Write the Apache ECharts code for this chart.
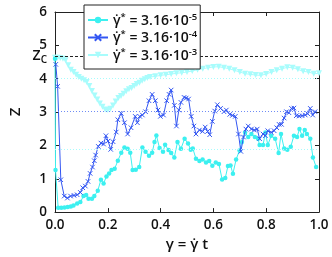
<!DOCTYPE html>
<html><head><meta charset="utf-8">
<script src="https://cdn.jsdelivr.net/npm/echarts@6/dist/echarts.min.js"></script>
<style>html,body{margin:0;padding:0;background:#fff}#c{width:332px;height:257px}</style>
</head><body><div id="c"></div>
<script>
// ---- data ----
const xTicks = [0.0, 0.2, 0.4, 0.6, 0.8, 1.0];
const yTicks = [0, 1, 2, 3, 4, 5, 6];
const seriesNames = ['γ̇* = 3.16·10⁻⁵', 'γ̇* = 3.16·10⁻⁴', 'γ̇* = 3.16·10⁻³'];
const seriesMantissa = ['3.16', '3.16', '3.16'];
const seriesExp = ['-5', '-4', '-3'];
const Z_C = 4.67;
const meanLevels = [1.89, 3.01, 4.0];

const s1x = [0,0.002,0.012,0.024,0.036,0.048,0.06,0.07,0.084,0.096,0.108,0.118,0.127,0.14,0.149,0.162,0.174,0.184,0.195,0.205,0.214,0.226,0.238,0.251,0.263,0.275,0.285,0.294,0.306,0.319,0.331,0.343,0.356,0.368,0.377,0.384,0.396,0.409,0.417,0.43,0.44,0.452,0.464,0.477,0.491,0.504,0.514,0.522,0.534,0.547,0.559,0.572,0.584,0.596,0.609,0.621,0.633,0.645,0.655,0.665,0.674,0.686,0.699,0.708,0.72,0.732,0.744,0.757,0.769,0.775,0.788,0.797,0.806,0.819,0.834,0.847,0.856,0.868,0.88,0.893,0.905,0.917,0.926,0.936,0.946,0.954,0.967,0.977,0.989];
const s1y = [4.6,1.26,0.13,0.13,0.14,0.15,0.17,0.2,0.26,0.3,0.48,0.51,0.4,0.4,0.48,0.64,0.97,0.86,1.07,1.16,1.26,1.3,1.54,1.78,1.94,1.9,1.78,1.26,1.27,1.35,1.94,1.81,1.69,1.78,2.1,2.3,1.92,1.81,2.02,1.86,1.77,1.64,2.1,1.9,2.2,2.06,1.87,1.91,1.6,1.53,1.58,1.49,1.53,1.39,1.49,1.44,0.98,1.02,1.38,1.4,1.15,1.58,1.85,2.1,2.39,2.25,2.34,2.25,2.2,2.01,2.01,2.39,2.01,2.29,2.2,1.77,2.34,1.91,1.87,1.96,2.29,2.25,2.49,2.29,2.46,2.34,2.2,1.64,1.35];

const s2x = [0.003,0.01,0.022,0.035,0.047,0.059,0.072,0.084,0.096,0.105,0.115,0.125,0.133,0.142,0.149,0.154,0.164,0.174,0.184,0.193,0.201,0.211,0.22,0.232,0.238,0.251,0.263,0.275,0.288,0.304,0.312,0.321,0.331,0.343,0.356,0.368,0.38,0.39,0.399,0.411,0.423,0.432,0.44,0.452,0.46,0.469,0.477,0.489,0.497,0.506,0.516,0.526,0.534,0.547,0.559,0.569,0.578,0.586,0.596,0.605,0.615,0.627,0.64,0.649,0.662,0.672,0.683,0.695,0.704,0.714,0.723,0.732,0.744,0.755,0.766,0.775,0.788,0.797,0.806,0.819,0.83,0.84,0.849,0.858,0.868,0.877,0.886,0.896,0.905,0.914,0.925,0.936,0.948,0.957,0.967,0.976,0.985];
const s2y = [4.43,3.77,0.97,0.48,0.42,0.48,0.5,0.52,0.59,0.73,0.78,0.92,1.16,1.35,1.54,1.71,1.97,2.07,2.04,2.29,2.13,1.88,2.11,2.4,2.77,2.96,2.68,2.34,2.53,2.87,2.68,2.87,2.91,3.01,3.34,3.53,3.34,3.06,2.87,2.91,3.34,3.53,3.66,3.2,2.58,3.06,3.29,3.44,3.42,3.39,2.87,2.58,2.34,2.46,2.42,2.55,2.42,2.32,2.72,3.03,3.22,3.11,3.01,3.06,2.93,2.9,2.87,2.34,1.82,2.25,2.49,2.58,2.49,2.46,2.49,2.2,2.34,2.29,2.44,2.39,2.44,2.53,2.63,2.63,2.82,3.01,2.98,3.11,3.12,2.89,2.88,2.89,2.91,2.95,3.11,2.91,3.01];

const s3x = [0,0.01,0.02,0.03,0.04,0.05,0.06,0.07,0.08,0.09,0.10,0.11,0.12,0.13,0.14,0.15,0.16,0.17,0.18,0.19,0.20,0.21,0.22,0.23,0.24,0.25,0.26,0.27,0.28,0.29,0.30,0.31,0.32,0.33,0.34,0.35,0.36,0.38,0.40,0.42,0.44,0.46,0.48,0.50,0.52,0.54,0.56,0.58,0.60,0.62,0.64,0.66,0.68,0.70,0.72,0.74,0.76,0.78,0.80,0.82,0.84,0.86,0.88,0.90,0.92,0.94,0.96,0.98,1.0];
const s3y = [4.63,4.63,4.62,4.6,4.55,4.4,4.27,4.2,4.12,4.05,4.0,3.95,3.9,3.78,3.63,3.5,3.38,3.26,3.16,3.08,3.06,3.1,3.2,3.32,3.42,3.48,3.55,3.62,3.68,3.72,3.78,3.84,3.88,3.94,3.98,4.02,4.05,4.07,4.1,4.12,4.14,4.16,4.18,4.2,4.23,4.27,4.3,4.33,4.35,4.36,4.33,4.3,4.25,4.2,4.15,4.13,4.11,4.1,4.14,4.2,4.25,4.3,4.34,4.33,4.28,4.22,4.2,4.15,4.16];

const colors = ['#3cf0f0', '#3356f2', '#a8fcfc'];
const pair = (xs, ys) => xs.map((x, i) => [x, ys[i]]);

const font = 'Open Sans';
const chart = echarts.init(document.getElementById('c'), null, {renderer: 'canvas'});
const axisCommon = {
  min: 0, axisLine: {show: true, onZero: false, lineStyle: {color: '#222', width: 1}},
  axisTick: {show: true, inside: true, length: 4, lineStyle: {color: '#222'}},
  splitLine: {show: false}
};
const base = {fontFamily: font, fontWeight: 600, color: '#111'};
chart.setOption({
  animation: false,
  color: colors,
  grid: {left: 49, right: 13, top: 12, bottom: 35, containLabel: false},
  legend: {
    orient: 'vertical', left: 84, top: 5, z: 20,
    backgroundColor: '#fff', borderColor: '#222', borderWidth: 1,
    padding: [7, 3, 6, 3], itemGap: 1.5, itemWidth: 20, itemHeight: 8,
    formatter: name => {
      const i = seriesNames.indexOf(name);
      return '{g|γ̇}{s|*}{t| = ' + seriesMantissa[i] + '·10}{s|' + seriesExp[i] + '}';
    },
    textStyle: Object.assign({}, base, {fontSize: 14,
      rich: {
        g: Object.assign({}, base, {fontSize: 14, lineHeight: 16, verticalAlign: 'bottom'}),
        t: Object.assign({}, base, {fontSize: 14, lineHeight: 16, verticalAlign: 'bottom'}),
        s: Object.assign({}, base, {fontSize: 9.5, lineHeight: 16, verticalAlign: 'top'})
      }}),
    data: seriesNames
  },
  xAxis: [
    Object.assign({}, axisCommon, {type: 'value', max: 1, interval: 0.2,
      axisLabel: Object.assign({}, base, {fontSize: 13.5, margin: 6,
        formatter: v => (xTicks.find(t => Math.abs(t - v) < 1e-6) ?? v).toFixed(1)}),
      name: 'γ = γ̇ t', nameLocation: 'middle', nameGap: 22,
      nameTextStyle: Object.assign({}, base, {fontSize: 15})}),
    Object.assign({}, axisCommon, {type: 'value', max: 1, interval: 0.2, position: 'top', axisLabel: {show: false}})
  ],
  yAxis: [
    Object.assign({}, axisCommon, {type: 'value', max: 6, interval: 1,
      axisLabel: Object.assign({}, base, {fontSize: 13.5, margin: 8,
        formatter: v => String(yTicks.find(t => t === v) ?? v)}),
      name: 'Z', nameLocation: 'middle', nameGap: 32, nameRotate: 90,
      nameTextStyle: Object.assign({}, base, {fontSize: 15})}),
    Object.assign({}, axisCommon, {type: 'value', max: 6, interval: 1, position: 'right', axisLabel: {show: false}})
  ],
  series: [
    {
      name: seriesNames[2], type: 'line', data: pair(s3x, s3y), z: 2,
      symbol: 'triangle', symbolRotate: 180, symbolSize: 6, showSymbol: true,
      lineStyle: {width: 1, color: colors[2]},
      itemStyle: {color: colors[2], borderWidth: 0},
      markLine: {silent: true, symbol: 'none',
        data: [
          {yAxis: Z_C, lineStyle: {type: [3, 2], color: '#222', width: 1},
           label: {show: true, position: 'start', distance: 8, formatter: '{a|Z}{b|C}',
             rich: {a: Object.assign({}, base, {fontSize: 14, lineHeight: 18, verticalAlign: 'middle'}),
                    b: Object.assign({}, base, {fontSize: 10, lineHeight: 18, verticalAlign: 'bottom'})}}},
          {yAxis: meanLevels[2], lineStyle: {type: [1, 2], color: colors[2], width: 1}, label: {show: false}}
        ]}
    },
    {
      name: seriesNames[0], type: 'line', data: pair(s1x, s1y), z: 3,
      symbol: 'circle', symbolSize: 4.5,
      lineStyle: {width: 1, color: colors[0]},
      itemStyle: {color: colors[0], borderWidth: 0},
      markLine: {silent: true, symbol: 'none', label: {show: false},
        data: [{yAxis: meanLevels[0], lineStyle: {type: [1, 2], color: colors[2], width: 1}}]}
    },
    {
      name: seriesNames[1], type: 'line', data: pair(s2x, s2y), z: 4,
      symbol: 'path://M0,0L10,10M10,0L0,10', symbolSize: 4.5,
      lineStyle: {width: 1, color: colors[1]},
      itemStyle: {color: 'none', borderColor: colors[1], borderWidth: 1},
      markLine: {silent: true, symbol: 'none', label: {show: false},
        data: [{yAxis: meanLevels[1], lineStyle: {type: [1, 2], color: '#6f8cf5', width: 1}}]}
    }
  ]
});
</script></body></html>
